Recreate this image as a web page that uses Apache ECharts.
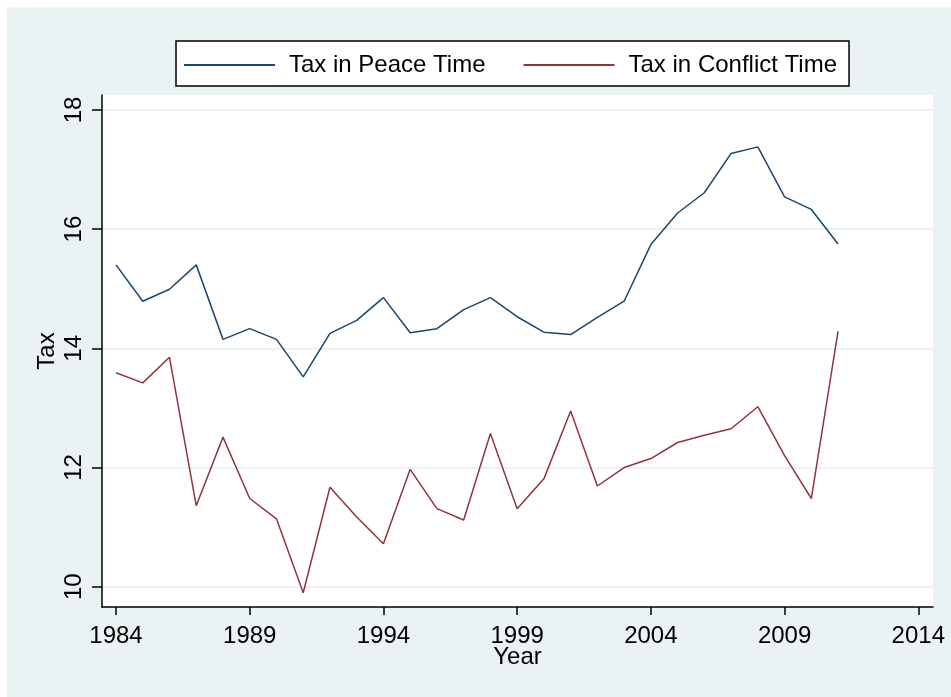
<!DOCTYPE html>
<html>
<head>
<meta charset="utf-8">
<script src="https://cdn.jsdelivr.net/npm/echarts@6/dist/echarts.min.js"></script>
<style>
html,body{margin:0;padding:0;background:#fff;}
#chart{width:951px;height:697px;}
</style>
</head>
<body>
<div id="chart"></div>
<script>
const years = [1984,1985,1986,1987,1988,1989,1990,1991,1992,1993,1994,1995,1996,1997,1998,1999,2000,2001,2002,2003,2004,2005,2006,2007,2008,2009,2010,2011];
const taxPeace = [15.40,14.79,14.99,15.40,14.15,14.33,14.15,13.52,14.25,14.47,14.85,14.26,14.33,14.65,14.85,14.53,14.27,14.23,14.52,14.79,15.74,16.27,16.61,17.27,17.38,16.54,16.33,15.75];
const taxConflict = [13.59,13.42,13.85,11.36,12.51,11.48,11.14,9.90,11.67,11.17,10.72,11.97,11.31,11.12,12.57,11.31,11.81,12.95,11.69,12.00,12.15,12.42,12.54,12.65,13.02,12.20,11.48,14.29];
const xTicks = [1984,1989,1994,1999,2004,2009,2014];
const yTicks = [10,12,14,16,18];
const seriesNames = ['Tax in Peace Time','Tax in Conflict Time'];

const FONT = '"Liberation Sans", Arial, sans-serif';
const chart = echarts.init(document.getElementById('chart'), null, {renderer:'canvas'});
const pair = arr => years.map((y,i)=>[y, arr[i]]);

chart.setOption({
  backgroundColor:'#ffffff',
  animation:false,
  graphic:[{type:'rect', z:-10, shape:{x:7,y:7,width:944,height:690}, style:{fill:'#eaf2f3'}}],
  grid:{left:102, top:95, right:18, bottom:90, show:true, backgroundColor:'#ffffff', borderWidth:0},
  legend:{
    left:176, top:41,
    padding:[12,12,9,8],
    borderColor:'#000', borderWidth:1.5, backgroundColor:'#ffffff',
    icon:'rect', itemWidth:91, itemHeight:2, itemGap:38,
    textStyle:{fontFamily:FONT, fontSize:24, color:'#000', padding:[0,0,0,9]},
    data:seriesNames
  },
  xAxis:{
    type:'value', min:1983.476, max:2014.55,
    name:'Year', nameLocation:'middle', nameGap:38, nameMoveOverlap:false,
    nameTextStyle:{fontFamily:FONT, fontSize:24, color:'#000'},
    axisLine:{show:true, onZero:false, lineStyle:{color:'#000', width:1.5}},
    axisTick:{show:true, length:8, customValues:xTicks, lineStyle:{color:'#000', width:1.5}},
    axisLabel:{customValues:xTicks, formatter:v=>String(v), fontFamily:FONT, fontSize:24, color:'#000', margin:17},
    splitLine:{show:false}
  },
  yAxis:{
    type:'value', min:9.66, max:18.25,
    name:'Tax', nameLocation:'middle', nameGap:43, nameRotate:90, nameMoveOverlap:false,
    nameTextStyle:{fontFamily:FONT, fontSize:24, color:'#000'},
    axisLine:{show:true, onZero:false, lineStyle:{color:'#000', width:1.5}},
    axisTick:{show:true, length:10, customValues:yTicks, lineStyle:{color:'#000', width:1.5}},
    axisLabel:{customValues:yTicks, rotate:90, fontFamily:FONT, fontSize:24, color:'#000', margin:16},
    splitLine:{show:true, lineStyle:{color:'#eaf2f3', width:2}}
  },
  series:[
    {name:seriesNames[0], type:'line', data:pair(taxPeace), symbol:'none', itemStyle:{color:'#1a476f'}, lineStyle:{color:'#1a476f', width:1.5}},
    {name:seriesNames[1], type:'line', data:pair(taxConflict), symbol:'none', itemStyle:{color:'#90353b'}, lineStyle:{color:'#90353b', width:1.5}}
  ]
});
</script>
</body>
</html>
